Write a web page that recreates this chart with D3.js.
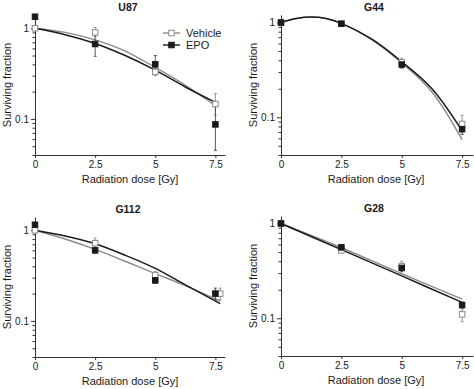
<!DOCTYPE html>
<html>
<head>
<meta charset="utf-8">
<script src="https://cdn.jsdelivr.net/npm/d3@7"></script>
<style>
  body { margin: 0; background: #fff; }
  svg { display: block; font-family: "Liberation Sans", Arial, sans-serif; }
</style>
</head>
<body>
<div id="chart"></div>
<script>
// ---- data ----
const cellLines = ['U87', 'G44', 'G112', 'G28'];
const seriesNames = ['Vehicle', 'EPO'];
const doses = [0, 2.5, 5, 7.5];
const xTickLabels = [0, 2.5, 5, 7.5];
const yTickLabels = [0.1, 1];
const yMinorTicks = [0.04, 0.05, 0.06, 0.07, 0.08, 0.09, 0.2, 0.3, 0.4, 0.5, 0.6, 0.7, 0.8, 0.9];

// U87
const u87Vehicle = [1.0, 0.90, 0.33, 0.146];
const u87VehicleLo = [null, 0.81, 0.30, 0.11];
const u87VehicleHi = [null, 1.02, 0.37, 0.19];
const u87Epo = [1.34, 0.67, 0.40, 0.087];
const u87EpoLo = [null, 0.49, 0.32, 0.045];
const u87EpoHi = [null, 0.85, 0.50, 0.14];
const u87FitDose = [0, 1.25, 2.5, 3.75, 5, 6.25, 7.5];
const u87VehicleFit = [1.0, 0.90, 0.745, 0.56, 0.37, 0.235, 0.14];
const u87EpoFit = [1.0, 0.85, 0.68, 0.50, 0.345, 0.225, 0.152];

// G44
const g44Vehicle = [1.0, 0.97, 0.38, 0.085];
const g44VehicleLo = [null, null, 0.35, 0.07];
const g44VehicleHi = [null, null, 0.42, 0.105];
const g44Epo = [1.0, 0.97, 0.36, 0.075];
const g44EpoLo = [null, null, 0.33, 0.066];
const g44EpoHi = [null, null, 0.39, 0.085];
const g44FitDose = [0, 0.625, 1.25, 1.875, 2.5, 3.75, 5, 6.25, 7.5];
const g44VehicleFit = [1.0, 1.10, 1.14, 1.10, 0.98, 0.66, 0.375, 0.185, 0.058];
const g44EpoFit = [1.0, 1.10, 1.14, 1.10, 0.98, 0.67, 0.385, 0.20, 0.072];

// G112 (vehicle point at the last dose drawn slightly to the right)
const g112VehicleDose = [0, 2.5, 5, 7.7];
const g112Vehicle = [1.0, 0.72, 0.32, 0.20];
const g112VehicleLo = [null, 0.65, 0.29, 0.17];
const g112VehicleHi = [null, 0.82, 0.35, 0.23];
const g112Epo = [1.15, 0.60, 0.28, 0.20];
const g112EpoLo = [null, 0.56, 0.26, 0.17];
const g112EpoHi = [null, 0.64, 0.30, 0.23];
const g112FitDose = [0, 1.25, 2.5, 3.75, 5, 6.25, 7.7];
const g112VehicleFit = [1.0, 0.80, 0.615, 0.455, 0.333, 0.245, 0.165];
const g112EpoFit = [1.0, 0.865, 0.71, 0.53, 0.38, 0.25, 0.155];

// G28
const g28Vehicle = [1.0, 0.52, 0.355, 0.11];
const g28VehicleLo = [null, 0.49, 0.32, 0.092];
const g28VehicleHi = [null, 0.56, 0.40, 0.125];
const g28Epo = [1.0, 0.56, 0.34, 0.138];
const g28EpoLo = [null, 0.53, 0.31, 0.128];
const g28EpoHi = [null, 0.59, 0.37, 0.148];
const g28FitDose = [0, 2.5, 5, 7.5];
const g28VehicleFit = [1.0, 0.555, 0.295, 0.159];
const g28EpoFit = [1.0, 0.53, 0.28, 0.147];

// ---- assemble ----
const zip = (xs, ys, lo, hi) => xs.map((d, i) => ({ dose: d, v: ys[i], lo: lo ? lo[i] : null, hi: hi ? hi[i] : null }));

const panels = [
  {
    name: cellLines[0],
    vehicle: zip(doses, u87Vehicle, u87VehicleLo, u87VehicleHi),
    epo: zip(doses, u87Epo, u87EpoLo, u87EpoHi),
    vehicleFit: zip(u87FitDose, u87VehicleFit),
    epoFit: zip(u87FitDose, u87EpoFit),
    legend: true
  },
  {
    name: cellLines[1],
    vehicle: zip(doses, g44Vehicle, g44VehicleLo, g44VehicleHi),
    epo: zip(doses, g44Epo, g44EpoLo, g44EpoHi),
    vehicleFit: zip(g44FitDose, g44VehicleFit),
    epoFit: zip(g44FitDose, g44EpoFit)
  },
  {
    name: cellLines[2],
    vehicle: zip(g112VehicleDose, g112Vehicle, g112VehicleLo, g112VehicleHi),
    epo: zip(doses, g112Epo, g112EpoLo, g112EpoHi),
    vehicleFit: zip(g112FitDose, g112VehicleFit),
    epoFit: zip(g112FitDose, g112EpoFit)
  },
  {
    name: cellLines[3],
    vehicle: zip(doses, g28Vehicle, g28VehicleLo, g28VehicleHi),
    epo: zip(doses, g28Epo, g28EpoLo, g28EpoHi),
    vehicleFit: zip(g28FitDose, g28VehicleFit),
    epoFit: zip(g28FitDose, g28EpoFit)
  }
];

// layout boxes (left column / right column, top row / bottom row)
const plotHeight = 140;
const boxes = [
  { left: 35, top: 15, width: 190, xMax: 7.9, yMax: 1.4 },
  { left: 281, top: 15, width: 192, xMax: 7.95, yMax: 1.2 },
  { left: 35, top: 217, width: 190, xMax: 7.9, yMax: 1.4 },
  { left: 281, top: 216, width: 192, xMax: 7.95, yMax: 1.2 }
];

const GREY = '#8a8a8a';
const INK = '#1a1a1a';
const MARK = 5.5;

const svg = d3.select('#chart').append('svg').attr('width', 474).attr('height', 389);

const drawErrorBars = (g, data, x, y, color) => {
  const bars = data.filter(d => d.lo != null);
  g.selectAll(null).data(bars).enter().append('line')
    .attr('x1', d => x(d.dose)).attr('x2', d => x(d.dose))
    .attr('y1', d => y(d.lo)).attr('y2', d => y(d.hi))
    .attr('stroke', color).attr('stroke-width', 0.9);
  ['lo', 'hi'].forEach(k => {
    g.selectAll(null).data(bars).enter().append('line')
      .attr('x1', d => x(d.dose) - 1.5).attr('x2', d => x(d.dose) + 1.5)
      .attr('y1', d => y(d[k])).attr('y2', d => y(d[k]))
      .attr('stroke', color).attr('stroke-width', 0.9);
  });
};

const drawMarkers = (g, data, x, y, filled) => {
  g.selectAll(null).data(data).enter().append('rect')
    .attr('x', d => x(d.dose) - MARK / 2)
    .attr('y', d => y(d.v) - MARK / 2)
    .attr('width', MARK).attr('height', MARK)
    .attr('fill', filled ? INK : '#fff')
    .attr('stroke', filled ? INK : GREY)
    .attr('stroke-width', 1);
};

const drawPanel = (panel, box) => {
  const g = svg.append('g');
  const bottom = box.top + plotHeight;
  const x = d3.scaleLinear().domain([0, box.xMax]).range([box.left, box.left + box.width]);
  const y = d3.scaleLog().domain([0.04, box.yMax]).range([bottom, box.top]);

  // x axis
  const xg = g.append('g').attr('transform', `translate(0,${bottom})`)
    .call(d3.axisBottom(x).tickValues(xTickLabels).tickSize(3).tickSizeOuter(0).tickFormat(d => String(d)));
  // y axis with minor ticks
  const yg = g.append('g').attr('transform', `translate(${box.left},0)`)
    .call(d3.axisLeft(y).tickValues(yTickLabels).tickSize(4).tickSizeOuter(0).tickFormat(d => String(d)));
  g.append('g').attr('transform', `translate(${box.left},0)`)
    .call(d3.axisLeft(y).tickValues(yMinorTicks).tickSize(2.5).tickSizeOuter(0).tickFormat(''))
    .call(a => a.select('.domain').remove());

  g.selectAll('.domain, .tick line').attr('stroke', '#333').attr('stroke-width', 1);
  g.selectAll('.tick text').attr('fill', INK).attr('font-size', 10)
    .attr('font-family', '"Liberation Sans", Arial, sans-serif');
  xg.selectAll('.tick text').attr('dy', '0.8em').attr('y', 5);
  yg.selectAll('.tick text').attr('x', -6);

  // titles
  g.append('text').attr('x', box.left + 93).attr('y', box.top - 4)
    .attr('text-anchor', 'middle').attr('font-weight', 'bold').attr('font-size', 10.5)
    .attr('fill', INK).text(panel.name);
  g.append('text').attr('x', box.left + 95).attr('y', bottom + 28)
    .attr('text-anchor', 'middle').attr('font-size', 11).attr('fill', INK)
    .text('Radiation dose [Gy]');
  g.append('text')
    .attr('transform', `translate(${box.left - 24},${box.top + plotHeight / 2}) rotate(-90)`)
    .attr('text-anchor', 'middle').attr('font-size', 11).attr('fill', INK)
    .text('Surviving fraction');

  // fitted curves
  const line = d3.line().x(d => x(d.dose)).y(d => y(d.v)).curve(d3.curveCatmullRom.alpha(0.5));
  g.append('path').attr('d', line(panel.vehicleFit))
    .attr('fill', 'none').attr('stroke', GREY).attr('stroke-width', 1.4);
  g.append('path').attr('d', line(panel.epoFit))
    .attr('fill', 'none').attr('stroke', INK).attr('stroke-width', 1.5);

  // points
  drawErrorBars(g, panel.vehicle, x, y, GREY);
  drawErrorBars(g, panel.epo, x, y, '#444');
  drawMarkers(g, panel.vehicle, x, y, false);
  drawMarkers(g, panel.epo, x, y, true);

  if (panel.legend) {
    const lg = g.append('g').attr('transform', 'translate(163,33)');
    seriesNames.forEach((name, i) => {
      const row = lg.append('g').attr('transform', `translate(0,${i * 12})`);
      row.append('line').attr('x1', 0).attr('x2', 17).attr('stroke', i ? INK : GREY).attr('stroke-width', 1.4);
      row.append('rect').attr('x', 8.5 - MARK / 2).attr('y', -MARK / 2)
        .attr('width', MARK).attr('height', MARK)
        .attr('fill', i ? INK : '#fff').attr('stroke', i ? INK : GREY);
      row.append('text').attr('x', 23).attr('y', 4).attr('font-size', 11).attr('fill', INK).text(name);
    });
  }
};

panels.forEach((p, i) => drawPanel(p, boxes[i]));
</script>
</body>
</html>
